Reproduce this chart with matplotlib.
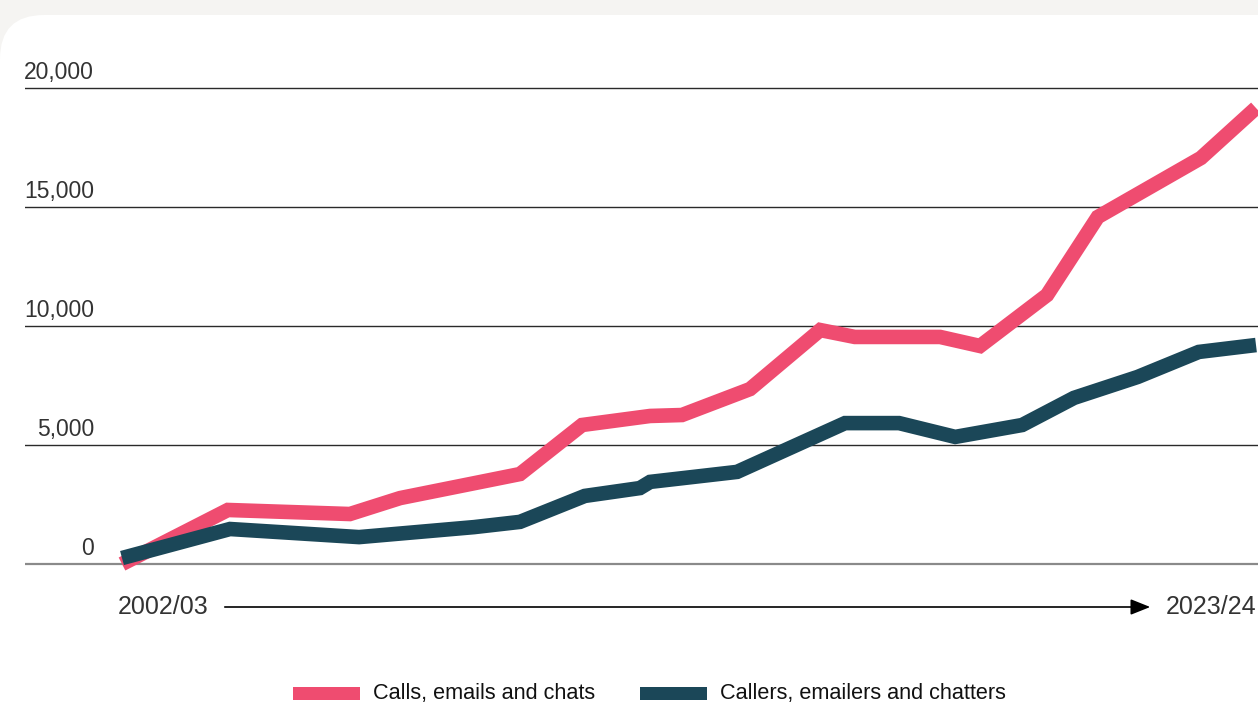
import matplotlib
matplotlib.use("Agg")
import matplotlib.pyplot as plt
from matplotlib.patches import FancyBboxPatch, Rectangle, FancyArrowPatch

plt.rcParams['font.family'] = ['Liberation Sans', 'DejaVu Sans']

# ---- data (x: position in years after 2002/03, y: counts) ----
first_label = "2002/03"
last_label = "2023/24"
contacts_x = [0, 1.96, 4.22, 5.15, 7.37, 8.52, 9.78, 10.37, 11.63, 12.93, 13.57,
              15.15, 15.89, 17.13, 18.07, 19.98, 21.0]
contacts_y = [0, 2270, 2100, 2770, 3780, 5840, 6220, 6260, 7350, 9830, 9540,
              9540, 9160, 11300, 14580, 17060, 19160]
people_x = [0, 2.0, 4.39, 6.52, 7.37, 8.57, 9.59, 9.78, 11.39, 13.39, 14.39,
            15.43, 16.67, 17.63, 18.81, 19.94, 21.0]
people_y = [250, 1470, 1130, 1550, 1770, 2860, 3190, 3450, 3870, 5920, 5920,
            5340, 5840, 6980, 7860, 8910, 9200]
yticks = [0, 5000, 10000, 15000, 20000]
series_names = ["Calls, emails and chats", "Callers, emailers and chatters"]

PINK = "#EF4C70"
DARK = "#1B4758"

W, H = 1258, 702
fig = plt.figure(figsize=(W / 100, H / 100), dpi=100)
fig.patch.set_facecolor("#F5F4F2")

def fx(px):
    return px / W

def fy(py):
    return 1 - py / H

# white card (extends past the right and bottom edges)
card = FancyBboxPatch((fx(0), fy(760)), fx(1320), fy(15) - fy(760),
                      boxstyle="round,pad=0,rounding_size=0.035",
                      transform=fig.transFigure, facecolor="white",
                      edgecolor="none", mutation_aspect=W / H, zorder=0)
fig.patches.append(card)

# axes: pixel 25..1258 horizontally, 40..600 vertically
ax_top, ax_bot = 40, 600
ax = fig.add_axes([fx(25), fy(ax_bot), fx(1258) - fx(25), fy(ax_top) - fy(ax_bot)])
ax.set_zorder(2)
ax.set_facecolor("none")
px_per_unit = (564 - 88) / 20000.0
ax.set_ylim((564 - ax_bot) / px_per_unit, (564 - ax_top) / px_per_unit)
px_per_year = (1256 - 122) / 21.0
ax.set_xlim((25 - 122) / px_per_year, (1258 - 122) / px_per_year)
for s in ax.spines.values():
    s.set_visible(False)
ax.set_xticks([])
ax.set_yticks([])

for v in yticks:
    if v == 0:
        ax.axhline(v, color="#8A8A8A", lw=1.6, zorder=1)
    else:
        ax.axhline(v, color="#2A2A2A", lw=1.0, zorder=1)
    ax.annotate(f"{v:,}", xy=(0, v), xycoords=("axes fraction", "data"),
                xytext=(94 - 25, 4), textcoords="offset pixels",
                ha="right", va="bottom", fontsize=16.5, color="#333333")

ax.plot(contacts_x, contacts_y, color=PINK, lw=10.5, solid_joinstyle="miter",
        solid_capstyle="butt", zorder=3)
ax.plot(people_x, people_y, color=DARK, lw=10.5, solid_joinstyle="miter",
        solid_capstyle="butt", zorder=4)

# timeline labels
fig.text(fx(118), fy(607), first_label, ha="left", va="center", fontsize=18, color="#333333")
fig.text(fx(1256), fy(607), last_label, ha="right", va="center", fontsize=18, color="#333333")
fig.add_artist(FancyArrowPatch(
    (fx(222), fy(607)), (fx(1153), fy(607)), transform=fig.transFigure,
    arrowstyle="-|>,head_length=5,head_width=2", mutation_scale=2.4,
    color="black", lw=1.2, zorder=3))

# legend
for (x0, col, name) in [(293, PINK, series_names[0]), (640, DARK, series_names[1])]:
    fig.patches.append(Rectangle((fx(x0), fy(700)), fx(67), fy(687) - fy(700),
                                 transform=fig.transFigure, facecolor=col,
                                 edgecolor="none", zorder=3))
    fig.text(fx(x0 + 80), fy(694), name, ha="left", va="center",
             fontsize=15.6, color="#111111")

fig.savefig("out.png", dpi=100)
